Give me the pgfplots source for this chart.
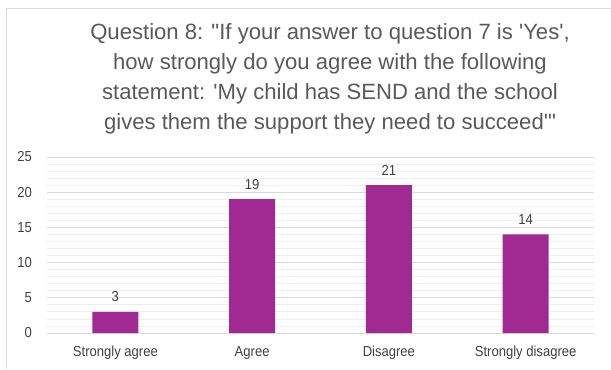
\documentclass[border=0pt]{standalone}
\usepackage{fontspec}
\setmainfont{Liberation Sans}
\newfontfamily\plainfont{Liberation Sans}
\newfontfamily\narrowfont{Liberation Sans}[FakeStretch=0.9]
\usepackage{pgfplots}
\pgfplotsset{compat=1.18}
\definecolor{barpurple}{RGB}{160,42,146}
\definecolor{titlegray}{RGB}{89,89,89}
\definecolor{labelgray}{RGB}{64,64,64}
\definecolor{majgrid}{RGB}{217,217,217}
\definecolor{mingrid}{RGB}{238,238,238}
\definecolor{frame}{RGB}{222,222,222}
\begin{document}
\begin{tikzpicture}[x=1bp,y=1bp]
\useasboundingbox (0,0) rectangle (611,369);
\draw[frame, line width=1.3bp] (6.5,0) -- (6.5,360.5) -- (611,360.5);
\node[anchor=north, align=center, inner sep=0pt, text=titlegray,
      font=\plainfont\fontsize{22.1bp}{30bp}\selectfont] at (330,346)
  {Question 8: "If your answer to question 7 is 'Yes',\\
   how strongly do you agree with the following\\
   statement: 'My child has SEND and the school\\
   gives them the support they need to succeed'"};
\begin{axis}[
  at={(47bp,36bp)}, anchor=south west,
  scale only axis, width=547bp, height=176bp,
  xmin=-0.5, xmax=3.5, ymin=0, ymax=25,
  xtick={0,1,2,3},
  xticklabels={Strongly agree, Agree, Disagree, Strongly disagree},
  ytick={0,5,10,15,20,25},
  minor y tick num=4,
  ymajorgrids, yminorgrids,
  major grid style={majgrid, line width=0.8bp},
  minor grid style={mingrid, line width=0.8bp},
  axis line style={draw=none},
  major tick length=0pt, minor tick length=0pt,
  tick style={draw=none},
  /pgf/number format/assume math mode=true,
  ticklabel style={font=\narrowfont\fontsize{14.5bp}{16bp}\selectfont, text=labelgray},
  xticklabel style={anchor=base, inner sep=0pt, yshift=-23bp},
  yticklabel style={anchor=east, inner sep=0pt, xshift=-15bp},
  clip=false,
]
\addplot[ybar, bar width=46bp, fill=barpurple, draw=none,
  nodes near coords,
  every node near coord/.append style={font=\narrowfont\fontsize{14.5bp}{16bp}\selectfont, text=labelgray, anchor=base, inner sep=0pt, yshift=10bp}]
  coordinates {(0,3) (1,19) (2,21) (3,14)};
\end{axis}
\end{tikzpicture}
\end{document}
